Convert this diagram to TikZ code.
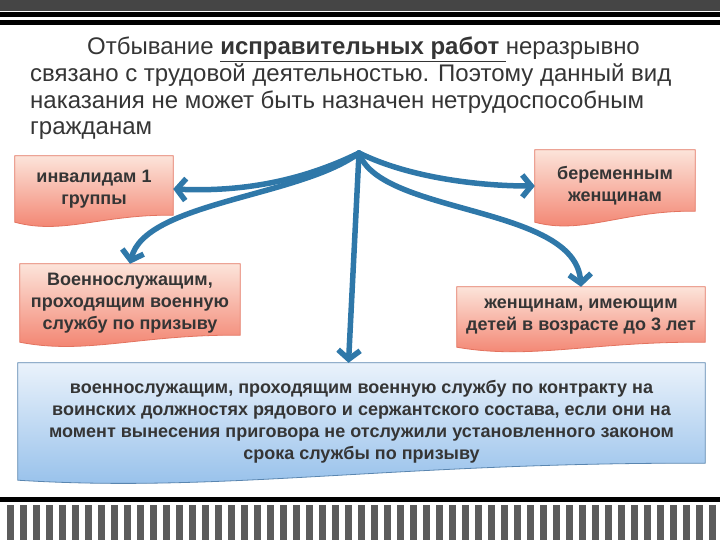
\documentclass[tikz,border=0pt]{standalone}
\usepackage{fontspec}
\setmainfont{Liberation Sans}
\usetikzlibrary{arrows.meta,calc,backgrounds}

\definecolor{bandgray}{HTML}{454545}
\definecolor{stripegray}{HTML}{5C5C5C}
\definecolor{txtgray}{HTML}{353535}
\definecolor{arrowblue}{HTML}{2F78A9}
\definecolor{pinktop}{HTML}{FCE4DA}
\definecolor{pinkbot}{HTML}{F27C68}
\definecolor{pinkline}{HTML}{E3735F}
\definecolor{bluetop}{HTML}{EAF2FB}
\definecolor{bluebot}{HTML}{92BEEA}
\definecolor{blueline}{HTML}{5A86B0}

\tikzset{
  conn/.style={line width=5.5pt, draw=arrowblue, line cap=round,
    -{Straight Barb[length=9pt,width=22pt]}},
  boxtext/.style={inner sep=0pt, align=center, text=txtgray,
    font=\bfseries\fontsize{18}{22}\selectfont},
  pinkfill/.style={draw=pinkline, line width=0.8pt, top color=pinktop, bottom color=pinkbot},
  bluefill/.style={draw=blueline, line width=0.8pt, top color=bluetop, bottom color=bluebot}
}

% волнистый низ блока (#1 узел, #2 стиль, #3 подъём правого угла)
\newcommand{\docshape}[3]{%
  \begin{scope}[on background layer]
    \path[#2] (#1.south west) -- (#1.north west) -- (#1.north east) -- ([yshift=#3]#1.south east)
      .. controls ($(#1.south west)!0.55!(#1.south east)+(0,#3+1pt)$)
      and ($(#1.south west)!0.3!(#1.south east)+(0,-13pt)$) .. (#1.south west) -- cycle;
  \end{scope}}

\begin{document}
\begin{tikzpicture}[x=1pt, y=-1pt]
    % 1. Рамка слайда
    \useasboundingbox (0,0) rectangle (720,540);
    \fill[bandgray] (0,0) rectangle (720,11);
    \fill[black] (0,12) rectangle (720,17);
    \fill[black] (0,20) rectangle (720,25);
    \fill[black] (0,497) rectangle (720,502);
    \foreach \i in {0,...,54}
        \fill[stripegray] ({7+13*\i},505) rectangle ++(6.5,35);

    % 2. Заголовок
    \node[anchor=north west, align=left, text=txtgray, inner sep=0pt,
          font=\fontsize{24}{26.7}\selectfont] (title) at (30,37)
        {\hspace*{57pt}Отбывание \textbf{\underline{исправительных работ }}неразрывно\\
         связано с трудовой деятельностью. Поэтому данный вид\\
         наказания не может быть назначен нетрудоспособным\\
         гражданам};

    % 3. Блоки
    \node[boxtext, minimum width=158pt, minimum height=66pt] (inv) at (94,189)
        {инвалидам 1\\группы};
    \node[boxtext, minimum width=220pt, minimum height=78pt] (voen) at (130,303)
        {Военнослужащим,\\проходящим военную\\службу по призыву};
    \node[boxtext, minimum width=160pt, minimum height=72pt] (ber) at (615,186)
        {беременным\\женщинам};
    \node[boxtext, minimum width=248pt, minimum height=60pt] (zhen) at (581,317)
        {женщинам, имеющим\\детей в возрасте до 3 лет};
    \node[boxtext, minimum width=687pt, minimum height=117pt] (contract) at (361.5,421.5)
        {военнослужащим, проходящим военную службу по контракту на\\
         воинских должностях рядового и сержантского состава, если они на\\
         момент вынесения приговора не отслужили установленного законом\\
         срока службы по призыву};

    \docshape{inv}{pinkfill}{7pt}
    \docshape{voen}{pinkfill}{7pt}
    \docshape{ber}{pinkfill}{11pt}
    \docshape{zhen}{pinkfill}{5pt}
    \docshape{contract}{bluefill}{17pt}

    % 4. Стрелки
    \coordinate (hub) at (359,153);
    \draw[conn] (hub) .. controls (300,182) and (240,192) .. (inv.east);
    \draw[conn] (hub) .. controls (300,197) and (145,202) .. (voen.north);
    \draw[conn] (hub) .. controls (410,178) and (480,186) .. (ber.west);
    \draw[conn] (hub) .. controls (380,215) and (575,205) .. (zhen.north);
    \draw[conn] (hub) -- ([xshift=-13pt]contract.north);
\end{tikzpicture}
\end{document}
